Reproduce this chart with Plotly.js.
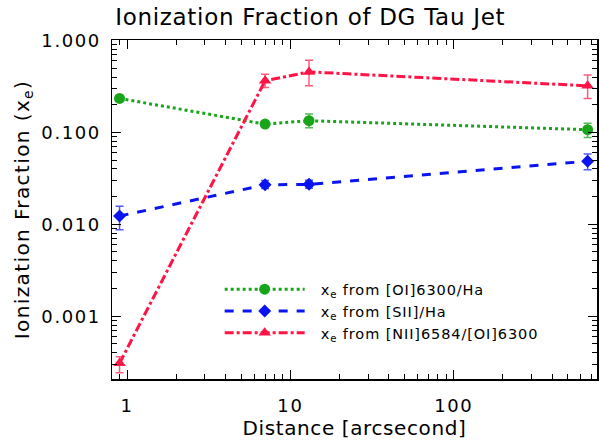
<!DOCTYPE html>
<html>
<head>
<meta charset="utf-8">
<script src="https://cdn.plot.ly/plotly-3.0.1.min.js"></script>
<style>
html,body{margin:0;padding:0;background:#fff;}
#chart{width:600px;height:446px;}
#chart .gtitle{letter-spacing:0.7px;}
#chart .xtitle{letter-spacing:0.6px;}
#chart .ytitle{letter-spacing:1.4px;}
#chart .xtick text,#chart .ytick text{letter-spacing:1.6px;}
#chart .legendtext{letter-spacing:0.9px;}
</style>
</head>
<body>
<div id="chart"></div>
<script>
// Distances (arcsec) and ionization fractions
const distOI = [0.9, 7, 13, 660];
const xeOI = [0.234, 0.123, 0.134, 0.107];
const errOIplus = [0, 0, 0.024, 0.019];
const errOIminus = [0, 0, 0.022, 0.019];

const distSII = [0.9, 7, 13, 660];
const xeSII = [0.0123, 0.0269, 0.0272, 0.0485];
const errSIIplus = [0.0034, 0.003, 0.003, 0.0095];
const errSIIminus = [0.0036, 0.0024, 0.0025, 0.0094];

const distNII = [0.9, 7, 13, 660];
const xeNII = [0.000308, 0.364, 0.455, 0.321];
const errNIIplus = [0.000055, 0.066, 0.155, 0.10];
const errNIIminus = [0.000065, 0.056, 0.134, 0.087];

const yTickVals = [0.001, 0.01, 0.1, 1];
const yTickText = ['0.001', '0.010', '0.100', '1.000'];
const xTickVals = [1, 10, 100];
const xTickText = ['1', '10', '100'];
const minorMultipliers = [2, 3, 4, 5, 6, 7, 8, 9];
const xMinorDecades = [0.1, 1, 10, 100];
const yMinorDecades = [0.0001, 0.001, 0.01, 0.1];

const pad = '\u00a0\u00a0';
const legendNames = [
  pad + 'x<sub>e</sub> from [OI]6300/Ha' + pad + pad + pad,
  pad + 'x<sub>e</sub> from [SII]/Ha' + pad + pad + pad,
  pad + 'x<sub>e</sub> from [NII]6584/[OI]6300' + pad + pad + pad
];

const xMinor = [];
xMinorDecades.forEach(d => minorMultipliers.forEach(m => xMinor.push(d * m)));
const yMinor = [];
yMinorDecades.forEach(d => minorMultipliers.forEach(m => yMinor.push(d * m)));

const green = '#19a519';
const blue = '#0a14f0';
const red = '#ff1446';
const greenErr = 'rgba(25,165,25,0.75)';
const blueErr = 'rgba(10,20,240,0.7)';
const redErr = 'rgba(255,20,70,0.7)';

function trace(x, y, ep, em, name, color, ecolor, dash, symbol, msize) {
  return {
    x: x, y: y, name: name, type: 'scatter', mode: 'lines+markers',
    line: {color: color, width: 3, dash: dash},
    marker: {color: color, symbol: symbol, size: msize},
    error_y: {type: 'data', array: ep, arrayminus: em, visible: true,
              color: ecolor, thickness: 1.5, width: 4},
  };
}

const data = [
  trace(distOI, xeOI, errOIplus, errOIminus, legendNames[0], green, greenErr, 'dot', 'circle', 11),
  trace(distSII, xeSII, errSIIplus, errSIIminus, legendNames[1], blue, blueErr, 'dash', 'diamond', 10),
  trace(distNII, xeNII, errNIIplus, errNIIminus, legendNames[2], red, redErr, 'dashdot', 'triangle-up', 11),
];

const font = 'DejaVu Sans, sans-serif';
const layout = {
  width: 600, height: 446,
  margin: {l: 112, r: 3, t: 40, b: 67},
  paper_bgcolor: '#fff', plot_bgcolor: '#fff',
  font: {family: font, color: '#000', size: 17},
  title: {text: 'Ionization Fraction of DG Tau Jet', font: {size: 23, family: font},
          x: 0.517, xref: 'container', xanchor: 'center', y: 0.962, yref: 'container', yanchor: 'middle'},
  showlegend: true,
  legend: {x: 0.222, y: 0.312, xanchor: 'left', yanchor: 'top', bgcolor: 'rgba(0,0,0,0)',
           font: {size: 14.5, family: font}, itemwidth: 80, tracegroupgap: 0},
  xaxis: {
    type: 'log', range: [-0.092, 2.877],
    title: {text: 'Distance [arcsecond]', font: {size: 20, family: font}, standoff: 5},
    tickvals: xTickVals, ticktext: xTickText, ticklabelstandoff: 10,
    ticks: 'inside', ticklen: 9, tickwidth: 1, tickcolor: '#000',
    minor: {tickmode: 'array', tickvals: xMinor, ticks: 'inside', ticklen: 5, tickwidth: 1, tickcolor: '#000', showgrid: false},
    showline: true, linecolor: '#000', linewidth: 1.5, mirror: 'ticks',
    showgrid: false, zeroline: false, tickfont: {size: 18}
  },
  yaxis: {
    type: 'log', range: [-3.683, 0.005],
    title: {text: 'Ionization Fraction (x<sub>e</sub>)', font: {size: 20, family: font}, standoff: 14},
    tickvals: yTickVals, ticktext: yTickText, ticklabelstandoff: 6,
    ticks: 'inside', ticklen: 9, tickwidth: 1, tickcolor: '#000',
    minor: {tickmode: 'array', tickvals: yMinor, ticks: 'inside', ticklen: 5, tickwidth: 1, tickcolor: '#000', showgrid: false},
    showline: true, linecolor: '#000', linewidth: 1.5, mirror: 'ticks',
    showgrid: false, zeroline: false, tickfont: {size: 18}
  }
};

Plotly.newPlot('chart', data, layout, {staticPlot: true});
</script>
</body>
</html>
